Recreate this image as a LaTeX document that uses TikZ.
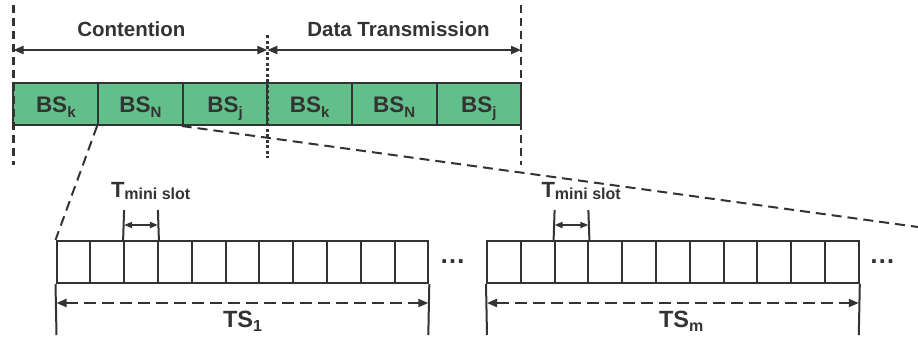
\documentclass[tikz,border=0pt]{standalone}
\usepackage{fontspec}
\setmainfont{Liberation Sans}
\usetikzlibrary{arrows.meta}
\definecolor{ink}{RGB}{51,51,51}
\definecolor{bsgreen}{RGB}{98,191,138}
\newcommand{\fs}[1]{\fontsize{#1bp}{#1bp}\selectfont}
\newcommand{\bsl}[1]{BS\raisebox{-4.3bp}{\fs{15}#1}}
\begin{document}
\begin{tikzpicture}[x=1bp,y=-1bp,color=ink,line width=2bp,
  cell/.style={draw=ink,line width=2bp,fill=bsgreen,minimum width=84.6bp,minimum height=42bp,
    inner sep=0pt,text height=17.4bp,text depth=0bp,font=\bfseries\fs{22.5}},
  slot/.style={draw=ink,line width=2bp,minimum width=33.8bp,minimum height=42bp,inner sep=0pt},
  guide/.style={line width=2.5bp,dash pattern=on 8bp off 5bp},
  dotline/.style={line width=2.5bp,dash pattern=on 3bp off 2.5bp},
  zoomline/.style={line width=2bp,dash pattern=on 10bp off 6bp},
  dimarrow/.style={line width=2bp,{Triangle[length=10bp,width=8bp]}-{Triangle[length=10bp,width=8bp]}},
  smalldim/.style={line width=1.8bp,{Triangle[length=8bp,width=6bp]}-{Triangle[length=8bp,width=6bp]}},
  dashdim/.style={line width=2bp,dash pattern=on 12bp off 6bp,{Triangle[length=10bp,width=8bp]}-{Triangle[length=10bp,width=8bp]}},
  label/.style={inner sep=0pt,text=ink,font=\bfseries\fs{#1}}]
\useasboundingbox (0,0) rectangle (918,339);

% top frame
\foreach \i/\s in {1/k,2/N,3/j,4/k,5/N,6/j}
  \node[cell] (c\i) at ({13.5+84.6*(\i-0.5)},104) {\bsl{\s}};

% guides
\coordinate (gl0) at (13.5,5);   \coordinate (gl1) at (13.5,165);
\coordinate (gr0) at (521.1,5);  \coordinate (gr1) at (521.1,165);
\coordinate (gm0) at (267.3,35); \coordinate (gm1) at (267.3,158);
\draw[guide] (gl0) -- (gl1);
\draw[guide] (gr0) -- (gr1);
\draw[dotline] (gm0) -- (gm1);

% top dimension arrows
\coordinate (al) at (13.5,50); \coordinate (am) at (267.3,50); \coordinate (ar) at (521.1,50);
\draw[dimarrow] (al) -- (am);
\draw[dimarrow] (am) -- (ar);
\node[label=20.5,anchor=base] (tcont) at (131.4,36.5) {Contention};
\node[label=20.5,anchor=base] (tdata) at (398.5,36.5) {Data Transmission};

% lower slots
\foreach \i in {1,...,11}{
  \node[slot] (l\i) at ({56.5+33.8*(\i-0.5)},262) {};
  \node[slot] (r\i) at ({487+33.8*(\i-0.5)},262) {};
}

% zoom lines
\coordinate (zend) at (918,227);
\draw[zoomline] (c2.south west) -- (l1.north west);
\draw[zoomline] (c3.south west) -- (zend);

% mini slot markers (left)
\coordinate (lt1) at (124.1,210); \coordinate (lt2) at (157.9,210);
\draw (l3.north west) -- (lt1);
\draw (l3.north east) -- (lt2);
\coordinate (la1) at (124.1,225); \coordinate (la2) at (157.9,225);
\draw[smalldim] (la1) -- (la2);
\node[label=22,anchor=base west] (tml) at (110,197) {T\raisebox{-2.5bp}{\fs{16}mini slot}};

% mini slot markers (right)
\coordinate (rt1) at (554.6,210); \coordinate (rt2) at (588.4,210);
\draw (r3.north west) -- (rt1);
\draw (r3.north east) -- (rt2);
\coordinate (ra1) at (554.6,225); \coordinate (ra2) at (588.4,225);
\draw[smalldim] (ra1) -- (ra2);
\node[label=22,anchor=base west] (tmr) at (540.5,197) {T\raisebox{-2.5bp}{\fs{16}mini slot}};

% TS dimension (left)
\coordinate (lb1) at (56.5,335); \coordinate (lb2) at (428.3,335);
\draw (l1.south west) -- (lb1);
\draw (l11.south east) -- (lb2);
\coordinate (ld1) at (56.5,303); \coordinate (ld2) at (428.3,303);
\draw[dashdim] (ld1) -- (ld2);
\node[label=23.5,anchor=base west] (ts1) at (222,327) {TS\raisebox{-4.5bp}{\fs{16}1}};

% TS dimension (right)
\coordinate (rb1) at (487,335); \coordinate (rb2) at (858.8,335);
\draw (r1.south west) -- (rb1);
\draw (r11.south east) -- (rb2);
\coordinate (rd1) at (487,303); \coordinate (rd2) at (858.8,303);
\draw[dashdim] (rd1) -- (rd2);
\node[label=23.5,anchor=base west] (tsm) at (658,327) {TS\raisebox{-4.5bp}{\fs{16}m}};

% ellipses
\node[label=26,anchor=base] (dotsl) at (452.5,263.5) {…};
\node[label=26,anchor=base] (dotsr) at (882.3,263.5) {…};
\end{tikzpicture}
\end{document}
